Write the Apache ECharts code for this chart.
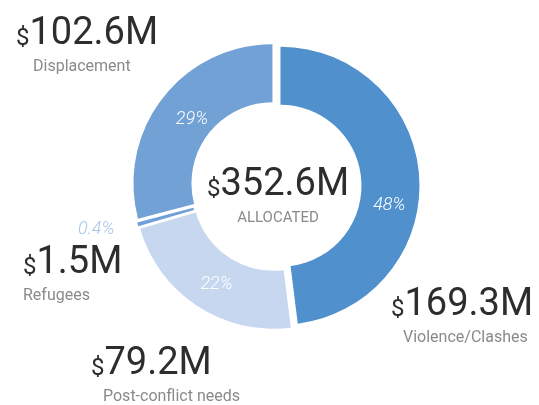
<!DOCTYPE html>
<html><head><meta charset="utf-8">
<script src="https://cdn.jsdelivr.net/npm/echarts@6/dist/echarts.min.js"></script>
<style>html,body{margin:0;padding:0;background:#fff}#c{width:539px;height:405px}</style>
</head><body><div id="c"></div>
<script>
// ---- data ----
const categories = ['Violence/Clashes', 'Post-conflict needs', 'Refugees', 'Displacement'];
const valuesM = [169.3, 79.2, 1.5, 102.6];
const percentLabels = ['48%', '22%', '0.4%', '29%'];
const centerCaption = 'ALLOCATED';

// ---- style ----
const colors = ['#4f90cd', '#c6d7ef', '#6e9fd8', '#72a1d6'];
const CX = 276, CY = 186, R0 = 81, R1 = 139;
// outside label anchor: [left, top, sub-line indent]
const labelBoxes = [[391, 285, 12], [91, 344, 12], [23, 215, 0], [16, 14, 17]];
// nudges of the percent labels inside the ring
const pctNudge = [[-4, 27], [5, 0], [0, 0], [9, 5]];
const FONT = 'Roboto';
const total = valuesM.reduce((a, b) => a + b, 0);

const ringData = categories.map((n, i) => ({
  name: n, value: valuesM[i], selected: true,
  itemStyle: { color: colors[i] },
  select: { itemStyle: { color: colors[i] } },
  label: i === 2 ? { show: false } : undefined
}));

const pctStyle = { fontFamily: FONT, fontSize: 18, fontStyle: 'italic', fontWeight: 300 };
const rich = {
  p: Object.assign({}, pctStyle, { color: '#a8c4e9', lineHeight: 28, padding: [0, 0, 0, 55] }),
  s: { fontFamily: FONT, fontSize: 24, color: '#2d2d2d', lineHeight: 40, verticalAlign: 'bottom', padding: [0, 0, 3, 0] },
  v: { fontFamily: FONT, fontSize: 38, color: '#2d2d2d', lineHeight: 40 }
};
labelBoxes.forEach((b, i) => {
  rich['n' + i] = { fontFamily: FONT, fontSize: 16, color: '#8a8a8a', lineHeight: 26, padding: [0, 0, 0, b[2]] };
});

const chart = echarts.init(document.getElementById('c'), null, { renderer: 'canvas' });
chart.setOption({
  animation: false,
  series: [
    {
      type: 'pie', center: [CX, CY], radius: [R0, R1], startAngle: 90, clockwise: true,
      selectedMode: 'multiple', selectedOffset: 4.5, silent: true,
      emphasis: { disabled: true }, avoidLabelOverlap: false,
      label: Object.assign({
        show: true, position: 'inside', color: '#ffffff',
        formatter: p => percentLabels[p.dataIndex]
      }, pctStyle),
      labelLine: { show: false },
      labelLayout: p => ({ dx: pctNudge[p.dataIndex][0], dy: pctNudge[p.dataIndex][1] }),
      data: ringData
    },
    {
      type: 'pie', center: [CX, CY], radius: [R0, R1], startAngle: 90, clockwise: true,
      silent: true, emphasis: { disabled: true }, avoidLabelOverlap: false,
      itemStyle: { color: 'rgba(0,0,0,0)' },
      label: {
        show: true, position: 'outside', align: 'left',
        formatter: p => (p.dataIndex === 2 ? '{p|' + percentLabels[2] + '}\n' : '') +
          '{s|$}{v|' + p.value.toFixed(1) + 'M}\n{n' + p.dataIndex + '|' + p.name + '}',
        rich: rich
      },
      labelLine: { show: false },
      labelLayout: p => ({ x: labelBoxes[p.dataIndex][0], y: labelBoxes[p.dataIndex][1], align: 'left', verticalAlign: 'top' }),
      data: categories.map((n, i) => ({ name: n, value: valuesM[i] }))
    },
    {
      type: 'pie', center: [CX, CY], radius: [0, R0 - 5], silent: true,
      emphasis: { disabled: true },
      itemStyle: { color: 'rgba(0,0,0,0)' },
      label: {
        show: true, position: 'center',
        formatter: () => '{s|$}{v|' + total.toFixed(1) + 'M}\n{c|' + centerCaption + '}',
        rich: {
          s: rich.s, v: rich.v,
          c: { fontFamily: FONT, fontSize: 15, color: '#8a8a8a', lineHeight: 26 }
        }
      },
      labelLayout: () => ({ dx: 2, dy: 12 }),
      data: [{ name: centerCaption, value: total }]
    }
  ]
});
</script></body></html>
